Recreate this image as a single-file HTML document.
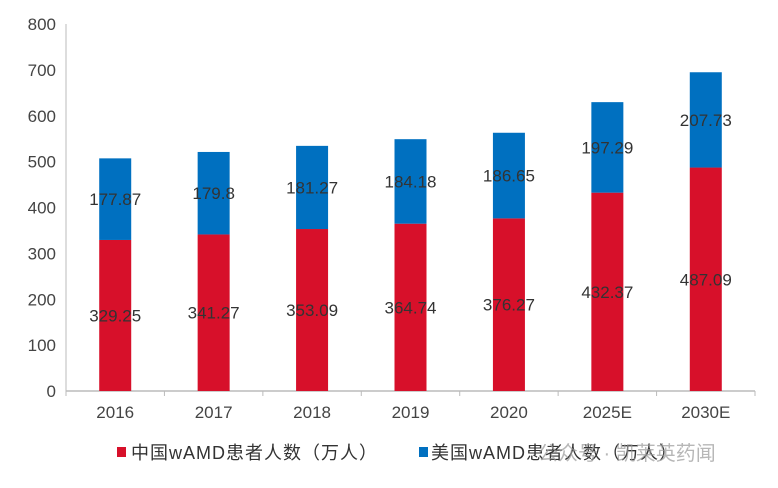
<!DOCTYPE html>
<html><head><meta charset="utf-8"><style>
body{margin:0;background:#fff;}
svg text{font-family:"Liberation Sans","Noto Sans CJK SC",sans-serif;}
</style></head><body>
<svg id="chart" width="778" height="483" viewBox="0 0 778 483" xmlns="http://www.w3.org/2000/svg">
<g id="axes"></g><g id="bars"></g>
<g>
<rect x="117" y="447" width="9" height="10" fill="#D7102A"/>
<text x="131" y="459" font-size="18" letter-spacing="1" fill="#333">中国wAMD患者人数（万人）</text>
<rect x="419" y="447" width="9" height="10" fill="#0070C0"/>
<text x="431" y="459" font-size="18" letter-spacing="1" fill="#333">美国wAMD患者人数（万人）</text>
<text x="538" y="460" font-size="20" fill="#999" opacity="0.7">公众号 · 凯莱英药闻</text>
</g>
</svg>
<script>
const categories=["2016","2017","2018","2019","2020","2025E","2030E"];
const chinaValues=[329.25,341.27,353.09,364.74,376.27,432.37,487.09];
const usValues=[177.87,179.8,181.27,184.18,186.65,197.29,207.73];
const yTicks=[0,100,200,300,400,500,600,700,800];
const NS="http://www.w3.org/2000/svg";
const x0=66,x1=755,yBase=391,yTop=24,yMax=800,bw=32;
const step=(x1-x0)/categories.length;
const y=v=>yBase-(v/yMax)*(yBase-yTop);
const xc=i=>x0+step*(i+0.5);
function mk(tag,attrs,parent,txt){const e=document.createElementNS(NS,tag);for(const k in attrs)e.setAttribute(k,attrs[k]);if(txt!==undefined)e.textContent=txt;parent.appendChild(e);return e;}
const axes=document.getElementById('axes'),bars=document.getElementById('bars');
yTicks.forEach(t=>{const el=mk('text',{x:56,y:y(t)+6,'text-anchor':'end','font-size':17,fill:'#444'},axes,String(t));

});
let yl=mk('line',{x1:x0,y1:yTop,x2:x0,y2:yBase,stroke:'#bbb','stroke-width':1},axes);


let xl=mk('line',{x1:x0,y1:yBase,x2:x1,y2:yBase,stroke:'#bbb','stroke-width':1.5},axes);


for(let i=0;i<=categories.length;i++){const tk=mk('line',{x1:x0+step*i,y1:yBase,x2:x0+step*i,y2:yBase+5,stroke:'#bbb'},axes);

}
categories.forEach((c,i)=>{
const lb=mk('text',{x:xc(i),y:418,'text-anchor':'middle','font-size':17,fill:'#444'},axes,c);


const a=chinaValues[i],b=usValues[i];
const r1=mk('rect',{x:xc(i)-bw/2,y:y(a),width:bw,height:yBase-y(a),fill:'#D7102A'},bars);


const r2=mk('rect',{x:xc(i)-bw/2,y:y(a+b),width:bw,height:y(a)-y(a+b),fill:'#0070C0'},bars);


const t1=mk('text',{x:xc(i),y:(y(a)+yBase)/2+6,'text-anchor':'middle','font-size':17,fill:'#333'},bars,String(a));


const t2=mk('text',{x:xc(i),y:(y(a)+y(a+b))/2+6,'text-anchor':'middle','font-size':17,fill:'#333'},bars,String(b));


});
</script>
</body></html>
